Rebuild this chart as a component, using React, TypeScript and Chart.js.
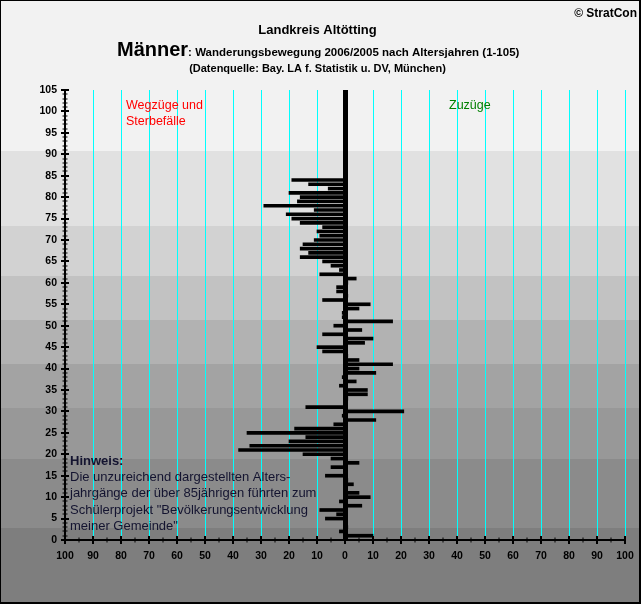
import { useEffect, useRef } from 'react';
import { Chart, registerables } from 'chart.js';

Chart.register(...registerables);

// Altersjahre (categories)
const AGES = [
  1, 2, 3, 4, 5, 6, 7, 8, 9, 10, 11, 12, 13, 14, 15, 16, 17, 18, 19, 20,
  21, 22, 23, 24, 25, 26, 27, 28, 29, 30, 31, 32, 33, 34, 35, 36, 37, 38, 39, 40,
  41, 42, 43, 44, 45, 46, 47, 48, 49, 50, 51, 52, 53, 54, 55, 56, 57, 58, 59, 60,
  61, 62, 63, 64, 65, 66, 67, 68, 69, 70, 71, 72, 73, 74, 75, 76, 77, 78, 79, 80,
  81, 82, 83, 84,
];

// Saldo Zuzüge (+) / Wegzüge und Sterbefälle (-) je Altersjahr
const NET = [
  10, -2, 1, 0, -7, -3, -9, 6, -2, 9, 5, 0, 3, 1, -7, 0, -5, 5, -5, -15,
  -38, -34, -20, -14, -35, -18, -4, 11, -1, 21, -14, 0, 1, 8, 8, -2, 4, -1, 11, 5,
  17, 5, 1, -8, -10, 7, 10, -8, 6, -4, 17, -1, -1, 5, 9, -8, 1, -3, -3, 1,
  4, -9, -2, -5, -8, -16, -13, -16, -15, -11, -9, -10, -8, -16, -19, -21, -11, -29, -17, -16,
  -20, -6, -13, -19,
];

const X_MIN = -100;
const X_MAX = 100;
const X_STEP = 10;
const Y_MIN = 0;
const Y_MAX = 105;
const Y_STEP = 5;

// background band edges (in Altersjahren) and colours, top to bottom
const BAND_EDGES = [90.8, 73.3, 61.7, 51.3, 41.1, 30.9, 18.9, 2.9];
const BAND_COLORS = ['#f2f2f2', '#e1e1e1', '#d2d2d2', '#c2c2c2', '#b2b2b2', '#a3a3a3', '#989898', '#8b8b8b', '#7e7e7e'];

const TITLE = 'Landkreis Altötting';
const HEAD = 'Männer';
const SUBHEAD = ': Wanderungsbewegung 2006/2005 nach Altersjahren (1-105)';
const SOURCE = '(Datenquelle: Bay. LA f. Statistik u. DV, München)';
const COPY = '© StratCon';
const LEFT_LABEL = ['Wegzüge und', 'Sterbefälle'];
const RIGHT_LABEL = 'Zuzüge';
const NOTE_HEAD = 'Hinweis:';
const NOTE_LINES = [
  'Die unzureichend dargestellten Alters-',
  'jahrgänge der über 85jährigen führten zum',
  'Schülerprojekt "Bevölkerungsentwicklung',
  'meiner Gemeinde"',
];

const FONT = '"Liberation Sans", Arial, sans-serif';
const CYAN = '#00ffff';

const bgPlugin = {
  id: 'bands',
  beforeDraw(chart: any) {
    const { ctx, width, height } = chart;
    const y = chart.scales.y;
    ctx.save();
    let top = 0;
    for (let i = 0; i < BAND_COLORS.length; i++) {
      const bottom = i < BAND_EDGES.length ? Math.round(y.getPixelForValue(BAND_EDGES[i])) : height;
      ctx.fillStyle = BAND_COLORS[i];
      ctx.fillRect(0, top, width, bottom - top);
      top = bottom;
    }
    ctx.restore();
  },
  beforeDatasetsDraw(chart: any) {
    const { ctx } = chart;
    const xs = chart.scales.x;
    const area = chart.chartArea;
    const t = Math.round(area.top);
    const b = Math.round(area.bottom);
    ctx.save();
    for (let v = X_MIN; v <= X_MAX; v += X_STEP) {
      const px = Math.round(xs.getPixelForValue(v));
      if (v === 0) {
        ctx.fillStyle = '#000';
        ctx.fillRect(px - 2, t, 5, b - t);
      } else {
        ctx.fillStyle = CYAN;
        ctx.fillRect(px, t, 1, b - t);
      }
    }
    ctx.restore();
  },
  afterDraw(chart: any) {
    const { ctx, width, height } = chart;
    const xs = chart.scales.x;
    const ys = chart.scales.y;
    const area = chart.chartArea;
    ctx.save();
    ctx.fillStyle = '#000';
    // axis lines
    const ax = Math.round(area.left);
    const ay = Math.round(area.bottom);
    ctx.fillRect(ax - 1, Math.round(area.top), 2, ay - Math.round(area.top) + 1);
    ctx.fillRect(ax - 1, ay - 1, Math.round(area.right) - ax + 2, 2);
    // y ticks
    for (let v = Y_MIN; v <= Y_MAX; v++) {
      const py = Math.round(ys.getPixelForValue(v));
      const major = v % Y_STEP === 0;
      const h = major ? 4 : 2.5;
      ctx.fillRect(ax - h, py - (major ? 1 : 0.5), h * 2, major ? 2 : 1);
    }
    // x ticks
    for (let v = X_MIN; v <= X_MAX; v += X_STEP / 2) {
      const px = Math.round(xs.getPixelForValue(v));
      const major = v % X_STEP === 0;
      const h = major ? 4 : 2.5;
      ctx.fillRect(px - 0.5 - (major ? 0.5 : 0), ay - h, major ? 2 : 1, h * 2);
    }
    // texts
    const txt = (s: string, x: number, y: number, font: string, color: string, align: CanvasTextAlign = 'left') => {
      ctx.font = font;
      ctx.fillStyle = color;
      ctx.textAlign = align;
      ctx.textBaseline = 'alphabetic';
      ctx.fillText(s, x, y);
    };
    txt(COPY, 637, 17, `bold 12px ${FONT}`, '#000', 'right');
    txt(TITLE, 317.5, 34, `bold 13px ${FONT}`, '#000', 'center');
    ctx.font = `bold 20px ${FONT}`;
    const hw = ctx.measureText(HEAD).width;
    txt(HEAD, 117, 55.5, `bold 20px ${FONT}`, '#000');
    txt(SUBHEAD, 117 + hw, 55.5, `bold 11.5px ${FONT}`, '#000');
    txt(SOURCE, 317.5, 72, `bold 11px ${FONT}`, '#000', 'center');
    txt(LEFT_LABEL[0], 126, 108.5, `12.5px ${FONT}`, '#ff0000');
    txt(LEFT_LABEL[1], 126, 124.5, `12.5px ${FONT}`, '#ff0000');
    txt(RIGHT_LABEL, 449, 108.5, `12.5px ${FONT}`, '#008000');
    txt(NOTE_HEAD, 70, 464.5, `bold 13px ${FONT}`, '#141430');
    NOTE_LINES.forEach((l, i) => txt(l, 70, 480.6 + i * 16.6, `13px ${FONT}`, '#141430'));
    // frame
    ctx.fillStyle = '#000';
    ctx.fillRect(0, 0, width, 1);
    ctx.fillRect(0, 0, 1, height);
    ctx.fillRect(width - 2, 0, 2, height);
    ctx.fillRect(0, height - 2, width, 2);
    ctx.restore();
  },
};

export default function App() {
  const ref = useRef<HTMLCanvasElement>(null);
  useEffect(() => {
    if (!ref.current) return;
    const chart = new Chart(ref.current, {
      type: 'bar',
      data: {
        datasets: [
          {
            data: AGES.map((a, i) => ({ x: NET[i], y: a })),
            backgroundColor: '#000',
            borderWidth: 0,
            barThickness: 3,
          },
        ],
      },
      options: {
        indexAxis: 'y',
        responsive: false,
        animation: false,
        layout: { padding: { left: 0, top: 90, right: 16, bottom: 0 } },
        plugins: { legend: { display: false }, tooltip: { enabled: false } },
        scales: {
          x: {
            type: 'linear',
            position: 'bottom',
            min: X_MIN,
            max: X_MAX,
            offset: false,
            border: { display: false },
            grid: { display: false, drawTicks: false, offset: false },
            ticks: {
              stepSize: X_STEP,
              autoSkip: false,
              maxRotation: 0,
              padding: 10,
              color: '#000',
              font: { family: FONT, size: 10.5, weight: 'bold' },
              callback: (v: any) => String(Math.abs(Number(v))),
            },
            afterFit: (s: any) => {
              s.height = 64;
              s.paddingLeft = 0;
              s.paddingRight = 0;
            },
          },
          y: {
            type: 'linear',
            min: Y_MIN,
            max: Y_MAX,
            offset: false,
            border: { display: false },
            grid: { display: false, drawTicks: false, offset: false },
            ticks: {
              stepSize: Y_STEP,
              autoSkip: false,
              padding: 8,
              color: '#000',
              font: { family: FONT, size: 10.5, weight: 'bold' },
            },
            afterFit: (s: any) => {
              s.width = 65;
              s.paddingTop = 0;
              s.paddingBottom = 0;
            },
          },
        },
      },
      plugins: [bgPlugin],
    });
    return () => chart.destroy();
  }, []);
  return (
    <div style={{ position: 'fixed', left: 0, top: 0, width: 641, height: 604 }}>
      <canvas ref={ref} width={641} height={604} style={{ display: 'block' }} />
    </div>
  );
}
